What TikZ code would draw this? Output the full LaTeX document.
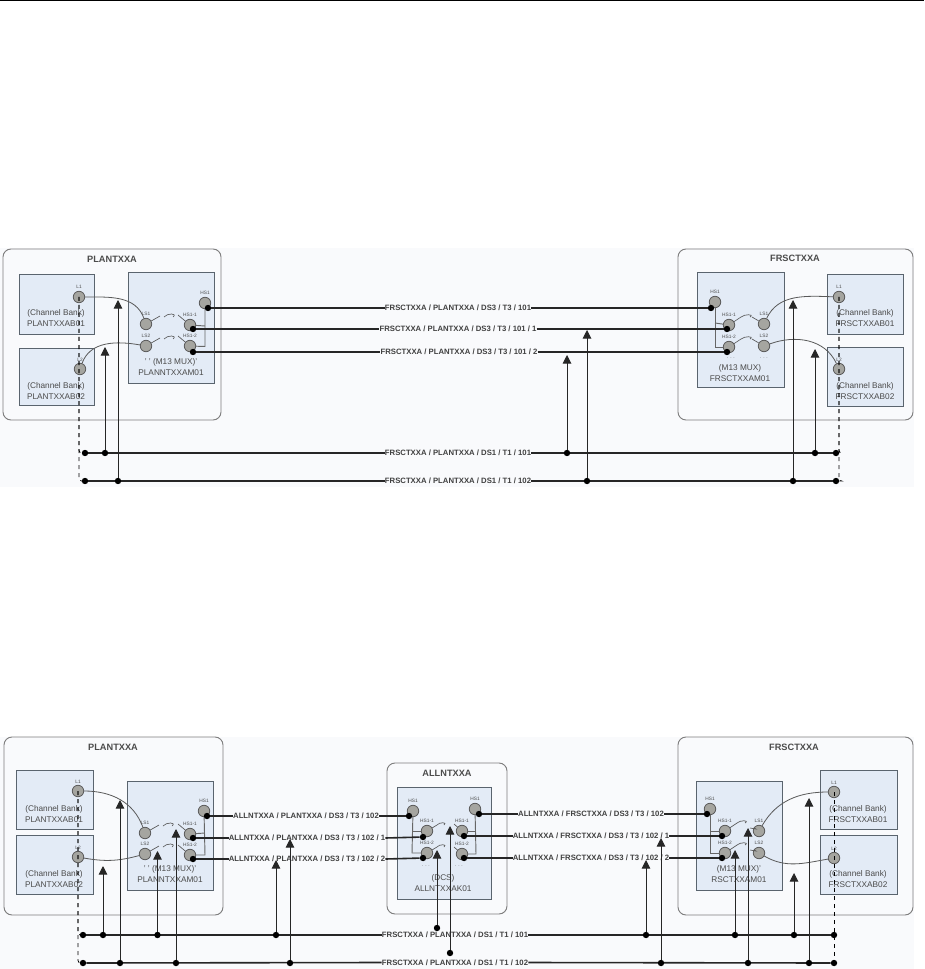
\documentclass[tikz,border=0pt]{standalone}
\usepackage{fontspec}
\setmainfont{Liberation Sans}
\usepackage{tikz}
\usetikzlibrary{arrows.meta}
\definecolor{siteLine}{RGB}{125,125,125}
\definecolor{bandFill}{RGB}{249,250,252}
\definecolor{devFill}{RGB}{227,235,246}
\definecolor{devLine}{RGB}{90,100,110}
\definecolor{portFill}{RGB}{165,165,160}
\definecolor{textGray}{RGB}{75,75,75}
\tikzset{
  band/.style={fill=bandFill,draw=none},
  sitebox/.style={draw=siteLine,fill=bandFill,line width=0.7pt,rounded corners=6pt},
  devbox/.style={draw=devLine,fill=devFill,line width=0.7pt},
  sitelbl/.style={font=\fontsize{6.9}{8}\selectfont\bfseries,text=textGray,inner sep=0pt},
  devlbl/.style={font=\fontsize{6.2}{7.6}\selectfont,text=textGray,align=center,inner sep=0pt},
  portlbl/.style={font=\fontsize{3.6}{4}\selectfont,text=textGray,inner sep=0pt,label distance=1.2pt},
  port/.style={circle,draw=black!65,fill=portFill,line width=0.6pt,minimum size=8.6pt,inner sep=0pt},
  dot/.style={circle,fill=black,minimum size=4.8pt,inner sep=0pt},
  linklbl/.style={font=\fontsize{5.8}{6}\selectfont\bfseries,text=black!75,inner sep=0pt},
  link/.style={line width=1.2pt,black!85},
  feed/.style={line width=0.7pt,black!85,-{Triangle[width=6.5pt,length=6.5pt]}},
  xcon/.style={line width=0.6pt,black!65},
  tree/.style={line width=0.7pt,black!60},
  swline/.style={line width=0.5pt,black!65},
  dashln/.style={line width=0.6pt,black,dashed,rounded corners=2pt}
}
\begin{document}
\begin{tikzpicture}[x=0.75pt,y=-0.75pt]
  \useasboundingbox (0,0) rectangle (924,969);
  \draw[line width=0.8pt] (0,0.5) -- (924,0.5);
  \fill[band] (0,248) rectangle (914,487);
  \fill[band] (0,737) rectangle (914,969);

  % --- TOP: two sites ---
  \draw[sitebox] (3,249) rectangle (221,420);
  \draw[sitebox] (678,249) rectangle (913,420);
  \node[sitelbl] (tsitel) at (112,259) {PLANTXXA};
  \node[sitelbl] (tsiter) at (795,258) {FRSCTXXA};
  % Devices
  \draw[devbox] (19,274) rectangle (94,334);
  \draw[devbox] (19,348) rectangle (94,405);
  \draw[devbox] (128,272) rectangle (214,383);
  \draw[devbox] (697,272) rectangle (784,387);
  \draw[devbox] (827,274) rectangle (903,334);
  \draw[devbox] (827,347) rectangle (903,406);
  \node[devlbl] (tbankl1) at (56,318) {(Channel Bank)\\PLANTXXAB01};
  \node[devlbl] (tbankl2) at (56,391) {(Channel Bank)\\PLANTXXAB02};
  \node[devlbl] (tmuxl) at (171,367) {' ' (M13 MUX)'\\PLANNTXXAM01};
  \node[devlbl] (tmuxr) at (740,373) {(M13 MUX)\\FRSCTXXAM01};
  \node[devlbl] (tbankr1) at (865,318) {(Channel Bank)\\FRSCTXXAB01};
  \node[devlbl] (tbankr2) at (865,391) {(Channel Bank)\\FRSCTXXAB02};
  \node[portlbl] (tmoreA) at (731,358) {. . .};
  \node[portlbl] (tmoreB) at (764,358) {. . .};
  % Ports
  \node[port,label={[portlbl]above:L1}] (tl1) at (79,297) {};
  \node[port,label={[portlbl]above:L2}] (tl2) at (80,369) {};
  \node[port,label={[portlbl]above:LS1}] (tls1) at (146,324) {};
  \node[port,label={[portlbl]above:LS2}] (tls2) at (146,346) {};
  \node[port,label={[portlbl]above:HS1-1}] (ths1) at (190,325) {};
  \node[port,label={[portlbl]above:HS1-2}] (ths2) at (190,346) {};
  \node[port,label={[portlbl]above:HS1}] (ths) at (205,303) {};
  \node[port,label={[portlbl]above:HS1}] (urhs) at (715,302) {};
  \node[port,label={[portlbl]above:HS1-1}] (urhs1) at (729,325) {};
  \node[port,label={[portlbl]above:HS1-2}] (urhs2) at (729,347) {};
  \node[port,label={[portlbl]above:LS1}] (urls1) at (764,324) {};
  \node[port,label={[portlbl]above:LS2}] (urls2) at (764,346) {};
  \node[port,label={[portlbl]above:L1}] (url1) at (839,297) {};
  \node[port,label={[portlbl]above:L2}] (url2) at (839,369) {};
  % Cross connects and switches
  \draw[xcon] (tl1) to[out=0,in=110] (tls1);
  \draw[xcon] (tl2) to[out=70,in=170] (tls2);
  \draw[xcon] (urls1) to[out=65,in=178] (url1);
  \draw[xcon] (urls2) to[out=20,in=115] (url2);
  \draw[swline] (tls1) -- ++(14,-8) ++(4,1) .. controls +(3,-4) and +(5,-4) .. ++(9,0);
  \draw[swline] (tls2) -- ++(14,-8) ++(4,1) .. controls +(3,-4) and +(5,-4) .. ++(9,0);
  \draw[swline] (ths1) -- ++(-12,-10);
  \draw[swline] (ths2) -- ++(-12,-10);
  \draw[swline] (urhs1) -- ++(12,-8) .. controls +(3,-3) and +(5,-3) .. ++(9,0) ++(2,0) -- (urls1);
  \draw[swline] (urhs2) -- ++(12,-8) .. controls +(3,-3) and +(5,-3) .. ++(9,0) ++(2,0) -- (urls2);
  \coordinate (ttreeA) at (205,346.5);
  \coordinate (ttreeB) at (205,326);
  \draw[tree] (ths) -- (ttreeA) -- (ths2);
  \draw[tree] (ttreeB) -- (ths1);
  \coordinate (utreeA) at (715,347);
  \coordinate (utreeB) at (715,323);
  \draw[tree] (urhs) -- (utreeA) -- (urhs2);
  \draw[tree] (utreeB) -- (urhs1);
  % DS3 links
  \node[dot] (tda) at (208,308) {};
  \node[dot] (tdb) at (193,329) {};
  \node[dot] (tdc) at (193,352) {};
  \node[dot] (uda) at (711,308) {};
  \node[dot] (udb) at (727,329) {};
  \node[dot] (udc) at (727,352) {};
  \node[linklbl] (tlka) at (458,308) {FRSCTXXA / PLANTXXA / DS3 / T3 / 101};
  \node[linklbl] (tlkb) at (458,329) {FRSCTXXA / PLANTXXA / DS3 / T3 / 101 / 1};
  \node[linklbl] (tlkc) at (459,352) {FRSCTXXA / PLANTXXA / DS3 / T3 / 101 / 2};
  \draw[link] (tda) -- (tlka.west); \draw[link] (tlka.east) -- (uda);
  \draw[link] (tdb) -- (tlkb.west); \draw[link] (tlkb.east) -- (udb);
  \draw[link] (tdc) -- (tlkc.west); \draw[link] (tlkc.east) -- (udc);
  % DS1 buses
  \node[dot] (tbusa) at (85,453) {};
  \node[dot] (tbusb) at (85,481) {};
  \node[dot] (ubusa) at (836,453) {};
  \node[dot] (ubusb) at (836,481) {};
  \node[linklbl] (tlkd) at (458,453) {FRSCTXXA / PLANTXXA / DS1 / T1 / 101};
  \node[linklbl] (tlke) at (458,481) {FRSCTXXA / PLANTXXA / DS1 / T1 / 102};
  \draw[link] (tbusa) -- (tlkd.west); \draw[link] (tlkd.east) -- (ubusa);
  \draw[link] (tbusb) -- (tlke.west); \draw[link] (tlke.east) -- (ubusb);
  \draw[dashln] (tl1.center) |- (tbusb);
  \draw[dashln] (tl1.center) |- (tbusa);
  \draw[dashln] (url1.center) |- (ubusb);
  \draw[dashln] (url1.center) |- (ubusa);
  % Arrows up from the buses
  \node[dot] (tfa) at (105,453) {}; \coordinate (tfae) at (105,347);
  \node[dot] (tfb) at (118,481) {}; \coordinate (tfbe) at (118,300);
  \node[dot] (tfc) at (567,453) {}; \coordinate (tfce) at (567,355);
  \node[dot] (tfd) at (587,481) {}; \coordinate (tfde) at (587,330);
  \node[dot] (tfe) at (793,481) {}; \coordinate (tfee) at (793,300);
  \node[dot] (tff) at (815,453) {}; \coordinate (tffe) at (815,349);
  \draw[feed] (tfa) -- (tfae); \draw[feed] (tfb) -- (tfbe);
  \draw[feed] (tfc) -- (tfce); \draw[feed] (tfd) -- (tfde);
  \draw[feed] (tfe) -- (tfee); \draw[feed] (tff) -- (tffe);

  % --- BOTTOM: three sites ---
  \draw[sitebox] (4,737) rectangle (223,915);
  \draw[sitebox] (387,763) rectangle (507,914);
  \draw[sitebox] (678,737) rectangle (913,915);
  \node[sitelbl] (bsitel) at (113,747) {PLANTXXA};
  \node[sitelbl] (bsitem) at (447,773) {ALLNTXXA};
  \node[sitelbl] (bsiter) at (794,747) {FRSCTXXA};
  % Devices
  \draw[devbox] (16,770) rectangle (93,829);
  \draw[devbox] (16,835) rectangle (93,894);
  \draw[devbox] (127,781) rectangle (213,890);
  \draw[devbox] (397,787) rectangle (491,899);
  \draw[devbox] (696,781) rectangle (782,890);
  \draw[devbox] (820,770) rectangle (897,829);
  \draw[devbox] (820,835) rectangle (897,894);
  \node[devlbl] (bbankl1) at (54,814) {(Channel Bank)\\PLANTXXAB01};
  \node[devlbl] (bbankl2) at (54,879) {(Channel Bank)\\PLANTXXAB02};
  \node[devlbl] (bmuxl) at (170,874) {' ' (M13 MUX)'\\PLANNTXXAM01};
  \node[devlbl] (bdcs) at (443,883) {(DCS)\\ALLNTXXAK01};
  \node[devlbl] (bmuxr) at (739,874) {(M13 MUX)'\\RSCTXXAM01};
  \node[devlbl] (bbankr1) at (858,814) {(Channel Bank)\\FRSCTXXAB01};
  \node[devlbl] (bbankr2) at (858,879) {(Channel Bank)\\FRSCTXXAB02};
  \node[portlbl] (bmoreA) at (426,866) {. . .};
  \node[portlbl] (bmoreB) at (459,866) {. . .};
  % Ports
  \node[port,label={[portlbl]above:L1}] (bl1) at (78,791) {};
  \node[port,label={[portlbl]above:L2}] (bl2) at (78,857) {};
  \node[port,label={[portlbl]above:LS1}] (bls1) at (145,833) {};
  \node[port,label={[portlbl]above:LS2}] (bls2) at (145,854) {};
  \node[port,label={[portlbl]above:HS1-1}] (bhs1) at (190,834) {};
  \node[port,label={[portlbl]above:HS1-2}] (bhs2) at (190,855) {};
  \node[port,label={[portlbl]above:HS1}] (bhs) at (204,811) {};
  \node[port,label={[portlbl]above:HS1}] (mhsl) at (413,811) {};
  \node[port,label={[portlbl]above:HS1-1}] (mhsl1) at (427,831) {};
  \node[port,label={[portlbl]above:HS1-2}] (mhsl2) at (427,853) {};
  \node[port,label={[portlbl]above:HS1}] (mhsr) at (475,809) {};
  \node[port,label={[portlbl]above:HS1-1}] (mhsr1) at (462,831) {};
  \node[port,label={[portlbl]above:HS1-2}] (mhsr2) at (462,854) {};
  \node[port,label={[portlbl]above:HS1}] (vrhs) at (710,809) {};
  \node[port,label={[portlbl]above:HS1-1}] (vrhs1) at (725,831) {};
  \node[port,label={[portlbl]above:HS1-2}] (vrhs2) at (725,853) {};
  \node[port,label={[portlbl]above:LS1}] (vrls1) at (759,831) {};
  \node[port,label={[portlbl]above:LS2}] (vrls2) at (759,853) {};
  \node[port,label={[portlbl]above:L1}] (vrl1) at (834,792) {};
  \node[port,label={[portlbl]above:L2}] (vrl2) at (834,858) {};
  % Cross connects and switches
  \draw[xcon] (bl1) to[out=0,in=110] (bls1);
  \draw[xcon] (bl2) to[out=-10,in=195] (bls2);
  \draw[xcon] (vrls1) to[out=60,in=180] (vrl1);
  \draw[xcon] (vrls2) to[out=-30,in=190] (vrl2);
  \draw[swline] (bls1) -- ++(14,-8) ++(4,1) .. controls +(3,-4) and +(5,-4) .. ++(9,0);
  \draw[swline] (bls2) -- ++(14,-8) ++(4,1) .. controls +(3,-4) and +(5,-4) .. ++(9,0);
  \draw[swline] (bhs1) -- ++(-12,-10);
  \draw[swline] (bhs2) -- ++(-12,-10);
  \draw[swline] (mhsl1) -- ++(10,-6) .. controls +(2,-3) and +(4,-3) .. ++(7,0);
  \draw[swline] (mhsl2) -- ++(10,-6) .. controls +(2,-3) and +(4,-3) .. ++(7,0);
  \draw[swline] (mhsr1) -- ++(-8,-7);
  \draw[swline] (mhsr2) -- ++(-8,-7);
  \draw[swline] (vrhs1) -- ++(12,-8) .. controls +(3,-3) and +(5,-3) .. ++(8,0);
  \draw[swline] (vrhs2) -- ++(12,-8) .. controls +(3,-3) and +(5,-3) .. ++(8,0);
  \draw[swline] (vrls1) -- ++(-3,-2) -- ++(-6,-1);
  \draw[swline] (vrls2) -- ++(-3,-2) -- ++(-6,-1);
  \coordinate (btreeA) at (205,855);
  \coordinate (btreeB) at (205,833);
  \draw[tree] (bhs) -- (btreeA) -- (bhs2);
  \draw[tree] (btreeB) -- (bhs1);
  \coordinate (mtreeA) at (412,853);
  \coordinate (mtreeB) at (412,831);
  \draw[tree] (mhsl) -- (mtreeA) -- (mhsl2);
  \draw[tree] (mtreeB) -- (mhsl1);
  \coordinate (mtreeC) at (476,854);
  \coordinate (mtreeD) at (476,831);
  \draw[tree] (mhsr) -- (mtreeC) -- (mhsr2);
  \draw[tree] (mtreeD) -- (mhsr1);
  \coordinate (vtreeA) at (710,853);
  \coordinate (vtreeB) at (710,831);
  \draw[tree] (vrhs) -- (vtreeA) -- (vrhs2);
  \draw[tree] (vtreeB) -- (vrhs1);
  % DS3 links
  \node[dot] (bda) at (207,816) {};
  \node[dot] (bdb) at (193,838) {};
  \node[dot] (bdc) at (193,859) {};
  \node[dot] (mda) at (409,816) {};
  \node[dot] (mdb) at (423,837) {};
  \node[dot] (mdc) at (423,858) {};
  \node[dot] (mde) at (479,814) {};
  \node[dot] (mdf) at (464,836) {};
  \node[dot] (mdg) at (464,858) {};
  \node[dot] (vda) at (707,814) {};
  \node[dot] (vdb) at (722,836) {};
  \node[dot] (vdc) at (722,858) {};
  \node[linklbl] (blka) at (306,816) {ALLNTXXA / PLANTXXA / DS3 / T3 / 102};
  \node[linklbl] (blkb) at (307,838) {ALLNTXXA / PLANTXXA / DS3 / T3 / 102 / 1};
  \node[linklbl] (blkc) at (307,859) {ALLNTXXA / PLANTXXA / DS3 / T3 / 102 / 2};
  \node[linklbl] (blkd) at (591,814) {ALLNTXXA / FRSCTXXA / DS3 / T3 / 102};
  \node[linklbl] (blke) at (591,836) {ALLNTXXA / FRSCTXXA / DS3 / T3 / 102 / 1};
  \node[linklbl] (blkf) at (591,858) {ALLNTXXA / FRSCTXXA / DS3 / T3 / 102 / 2};
  \draw[link] (bda) -- (blka.west); \draw[link] (blka.east) -- (mda);
  \draw[link] (bdb) -- (blkb.west); \draw[link] (blkb.east) -- (mdb);
  \draw[link] (bdc) -- (blkc.west); \draw[link] (blkc.east) -- (mdc);
  \draw[link] (mde) -- (blkd.west); \draw[link] (blkd.east) -- (vda);
  \draw[link] (mdf) -- (blke.west); \draw[link] (blke.east) -- (vdb);
  \draw[link] (mdg) -- (blkf.west); \draw[link] (blkf.east) -- (vdc);
  % DS1 buses
  \node[dot] (bbusa) at (83,935) {};
  \node[dot] (bbusb) at (83,963) {};
  \node[dot] (vbusa) at (834,935) {};
  \node[dot] (vbusb) at (834,963) {};
  \node[linklbl] (blkg) at (455,935) {FRSCTXXA / PLANTXXA / DS1 / T1 / 101};
  \node[linklbl] (blkh) at (455,962.5) {FRSCTXXA / PLANTXXA / DS1 / T1 / 102};
  \draw[link] (bbusa) -- (blkg.west); \draw[link] (blkg.east) -- (vbusa);
  \draw[link] (bbusb) -- (blkh.west); \draw[link] (blkh.east) -- (vbusb);
  \draw[dashln] (bl1.center) |- (bbusb);
  \draw[dashln] (bl1.center) |- (bbusa);
  \draw[dashln] (vrl1.center) -- (vbusb);
  % Arrows up from the buses
  \node[dot] (bfa) at (103,935) {}; \coordinate (bfae) at (103,866);
  \node[dot] (bfb) at (120,963) {}; \coordinate (bfbe) at (120,800);
  \node[dot] (bfc) at (157.5,935) {}; \coordinate (bfce) at (157.5,851);
  \node[dot] (bfd) at (176,963) {}; \coordinate (bfde) at (176,829);
  \node[dot] (bfe) at (276,935) {}; \coordinate (bfee) at (276,860);
  \node[dot] (bff) at (290,963) {}; \coordinate (bffe) at (290,839);
  \node[dot] (bfg) at (437,928) {}; \coordinate (bfge) at (437,850);
  \node[dot] (bfh) at (450,953) {}; \coordinate (bfhe) at (450,826);
  \node[dot] (bfi) at (646,935) {}; \coordinate (bfie) at (646,860);
  \node[dot] (bfj) at (661,963) {}; \coordinate (bfje) at (661,838);
  \node[dot] (bfk) at (735,935) {}; \coordinate (bfke) at (735,850);
  \node[dot] (bfl) at (748,963) {}; \coordinate (bfle) at (748,828);
  \node[dot] (bfm) at (794,935) {}; \coordinate (bfme) at (794,873);
  \node[dot] (bfn) at (809,963) {}; \coordinate (bfne) at (809,798);
  \draw[feed] (bfa) -- (bfae); \draw[feed] (bfb) -- (bfbe);
  \draw[feed] (bfc) -- (bfce); \draw[feed] (bfd) -- (bfde);
  \draw[feed] (bfe) -- (bfee); \draw[feed] (bff) -- (bffe);
  \draw[feed] (bfg) -- (bfge); \draw[feed] (bfh) -- (bfhe);
  \draw[feed] (bfi) -- (bfie); \draw[feed] (bfj) -- (bfje);
  \draw[feed] (bfk) -- (bfke); \draw[feed] (bfl) -- (bfle);
  \draw[feed] (bfm) -- (bfme); \draw[feed] (bfn) -- (bfne);
\end{tikzpicture}
\end{document}
